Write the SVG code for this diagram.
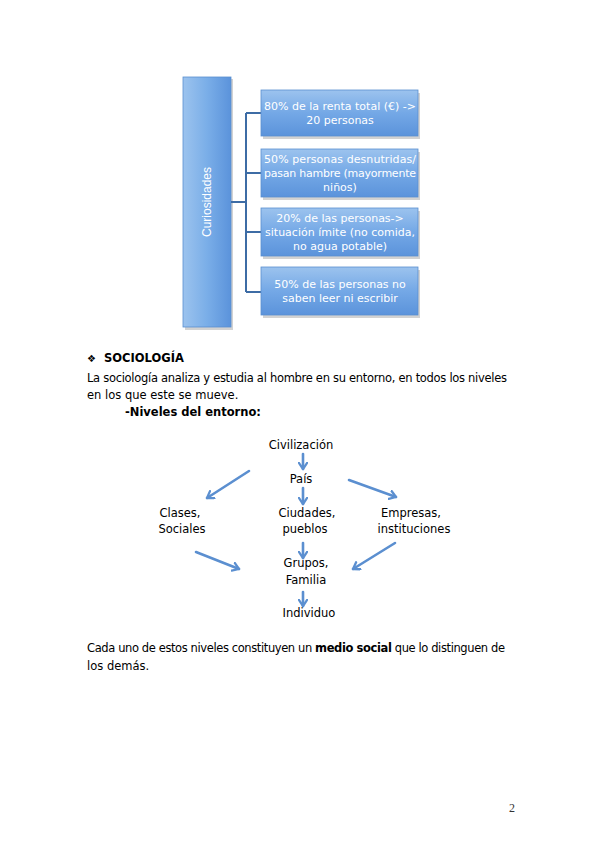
<svg xmlns="http://www.w3.org/2000/svg" width="599" height="848" viewBox="0 0 599 848">
<defs>
<linearGradient id="g" x1="0" y1="0" x2="0" y2="1">
<stop offset="0" stop-color="#9cc3ee"/>
<stop offset="0.5" stop-color="#74a8e6"/>
<stop offset="1" stop-color="#5b93db"/>
</linearGradient>
<linearGradient id="gl" x1="0" y1="0" x2="1" y2="0">
<stop offset="0" stop-color="#9cc3ee"/>
<stop offset="0.5" stop-color="#7aaee8"/>
<stop offset="1" stop-color="#5b93db"/>
</linearGradient>
<marker id="ah" viewBox="0 0 10 10" refX="7" refY="5" markerWidth="4" markerHeight="4" orient="auto" markerUnits="strokeWidth">
<polyline points="1,1 7,5 1,9" fill="none" stroke="#5b8fd0" stroke-width="2.2" stroke-linecap="round" stroke-linejoin="round"/>
</marker>
</defs>
<style>
.box{stroke:#5a8fcf;stroke-width:0.8}
.shadow{fill:#7f7f7f;opacity:0.35}
.bt{font-family:"DejaVu Sans",sans-serif;font-size:11px;fill:#ffffff;text-anchor:middle}
.t{font-family:"DejaVu Sans",sans-serif;font-size:11.5px;fill:#000000}
.c{text-anchor:middle}
.b{font-weight:bold}
.arr{stroke:#5b8fd0;stroke-width:2.6;fill:none;stroke-linecap:round;marker-end:url(#ah)}
.con{stroke:#3d6ca5;stroke-width:2;fill:none}
</style>
<rect width="599" height="848" fill="#ffffff"/>

<g id="curiosidades">
<rect class="shadow" x="185" y="79" width="48" height="251"/>
<rect class="box" x="183" y="77" width="48" height="250" fill="url(#gl)"/>
<text transform="translate(211,202) rotate(-90)" style="font-family:'Liberation Sans',sans-serif;font-size:12px;fill:#ffffff;text-anchor:middle">Curiosidades</text>
</g>

<g id="connectors-tree">
<path class="con" d="M231,202 H246 M246,113 V292 M246,113 H262 M246,173 H262 M246,232 H262 M246,292 H262"/>
</g>

<g id="box1">
<rect class="shadow" x="263" y="93" width="157" height="46"/>
<rect class="box" x="261" y="90" width="157" height="46" fill="url(#g)"/>
<text class="bt" x="340" y="110">80% de la renta total (€) -&gt;</text>
<text class="bt" x="340" y="124">20 personas</text>
</g>
<g id="box2">
<rect class="shadow" x="263" y="152" width="157" height="48"/>
<rect class="box" x="261" y="149" width="157" height="48" fill="url(#g)"/>
<text class="bt" x="340" y="163" textLength="152">50% personas desnutridas/</text>
<text class="bt" x="340" y="177" textLength="152">pasan hambre (mayormente</text>
<text class="bt" x="340" y="191">niños)</text>
</g>
<g id="box3">
<rect class="shadow" x="263" y="211" width="157" height="48"/>
<rect class="box" x="261" y="208" width="157" height="48" fill="url(#g)"/>
<text class="bt" x="340" y="222">20% de las personas-&gt;</text>
<text class="bt" x="340" y="236" textLength="150">situación ímite (no comida,</text>
<text class="bt" x="340" y="250">no agua potable)</text>
</g>
<g id="box4">
<rect class="shadow" x="263" y="270" width="157" height="48"/>
<rect class="box" x="261" y="267" width="157" height="48" fill="url(#g)"/>
<text class="bt" x="340" y="288">50% de las personas no</text>
<text class="bt" x="340" y="302">saben leer ni escribir</text>
</g>

<g id="text-sociologia">
<text class="t" x="87" y="362" style="font-size:10px">❖</text>
<text class="t b" x="104" y="362">SOCIOLOGÍA</text>
<text class="t" x="87" y="382" textLength="420">La sociología analiza y estudia al hombre en su entorno, en todos los niveles</text>
<text class="t" x="87" y="399">en los que este se mueve.</text>
<text class="t b" x="125" y="416">-Niveles del entorno:</text>
</g>

<g id="n-civilizacion"><text class="t c" x="301" y="449">Civilización</text></g>
<g id="n-pais"><text class="t c" x="301" y="483">País</text></g>
<g id="n-clases"><text class="t c" x="180" y="517">Clases,</text><text class="t c" x="182" y="533">Sociales</text></g>
<g id="n-ciudades"><text class="t c" x="307" y="517">Ciudades,</text><text class="t c" x="305" y="533">pueblos</text></g>
<g id="n-empresas"><text class="t c" x="411" y="517">Empresas,</text><text class="t c" x="414" y="533">instituciones</text></g>
<g id="n-grupos"><text class="t c" x="306" y="567">Grupos,</text><text class="t c" x="306" y="584">Familia</text></g>
<g id="n-individuo"><text class="t c" x="309" y="617">Individuo</text></g>

<g id="connectors">
<line class="arr" x1="303" y1="454" x2="303" y2="469"/>
<line class="arr" x1="303" y1="488" x2="303" y2="504"/>
<line class="arr" x1="249" y1="471" x2="207" y2="498"/>
<line class="arr" x1="349" y1="480" x2="396" y2="497"/>
<line class="arr" x1="303" y1="543" x2="303" y2="558"/>
<line class="arr" x1="196" y1="552" x2="239" y2="569"/>
<line class="arr" x1="395" y1="543" x2="353" y2="569"/>
<line class="arr" x1="303" y1="592" x2="303" y2="606"/>
</g>

<g id="text-final">
<text class="t" x="87" y="652" textLength="418">Cada uno de estos niveles constituyen un <tspan class="b">medio social</tspan> que lo distinguen de</text>
<text class="t" x="87" y="670">los demás.</text>
</g>
<text x="509" y="812" style="font-family:'Liberation Serif',serif;font-size:12px;fill:#333333">2</text>
</svg>
